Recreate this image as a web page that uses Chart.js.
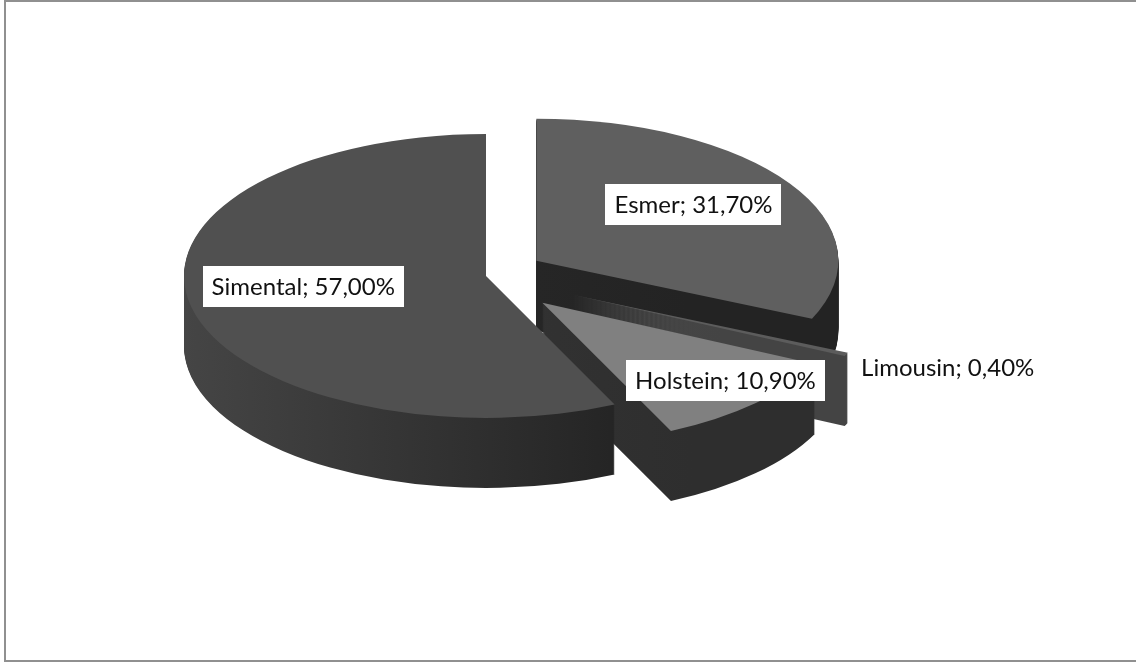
<!DOCTYPE html>
<html>
<head>
<meta charset="utf-8">
<script src="https://cdn.jsdelivr.net/npm/chart.js@4"></script>
<style>
  html, body { margin: 0; padding: 0; background: #fff; }
  #wrap { position: relative; width: 1136px; height: 664px; overflow: hidden; }
  #frame { position: absolute; left: 4px; top: 0; width: 1140px; height: 658px; border: 2px solid #909090; }
  canvas { position: absolute; left: 0; top: 0; }
</style>
</head>
<body>
<div id="wrap">
  <div id="frame"></div>
  <canvas id="chart1" width="1136" height="664"></canvas>
</div>
<script>
// datos
var razas = ['Esmer', 'Limousin', 'Holstein', 'Simental'];
var porcentajes = [31.7, 0.4, 10.9, 57.0];

// estilo de cada porcion
var colorTapa = ['#5f5f5f', '#5c5c5c', '#808080', '#505050'];
var colorLado = [['#2c2c2c', '#232323'], ['#4e4e4e', '#444444'], ['#383838', '#2e2e2e'], ['#454545', '#232323']];
var separacion = [60, 95, 80, 0];          // explosion, px
var radioEtiqueta = [0.62, 1.37, 0.86, 0.62];

var INCLINA = 0.47;   // aplastado vertical
var GROSOR = 70;      // alto del canto
var ELEVA = 9;        // subir etiquetas

function conOpciones(arc, fill, ctx) {
  var orig = arc.options;
  arc.options = Object.assign({}, orig, { backgroundColor: fill, borderWidth: 0 });
  arc.draw(ctx);
  arc.options = orig;
}

function plano(ctx, cx, cy, d) {
  ctx.translate(0, d);
  ctx.translate(cx, cy);
  ctx.scale(1, INCLINA);
  ctx.translate(-cx, -cy);
}

function mover(ctx, arc, i) {
  var mitad = (arc.startAngle + arc.endAngle) / 2;
  ctx.translate(Math.cos(mitad) * separacion[i], Math.sin(mitad) * separacion[i]);
}

var tarta3d = {
  id: 'tarta3d',
  beforeDatasetsDraw: function(chart) {
    var ctx = chart.ctx;
    var arcs = chart.getDatasetMeta(0).data;
    var cx = arcs[0].x, cy = arcs[0].y, R = arcs[0].outerRadius;

    // cantos, capa por capa desde abajo
    for (var d = GROSOR; d > 0; d--) {
      arcs.forEach(function(arc, i) {
        ctx.save();
        plano(ctx, cx, cy, d);
        mover(ctx, arc, i);
        var g = ctx.createLinearGradient(cx - R, 0, cx + R * 0.5, 0);
        g.addColorStop(0, colorLado[i][0]);
        g.addColorStop(1, colorLado[i][1]);
        conOpciones(arc, g, ctx);
        ctx.restore();
      });
    }

    // tapas
    arcs.forEach(function(arc, i) {
      ctx.save();
      plano(ctx, cx, cy, 0);
      mover(ctx, arc, i);
      conOpciones(arc, colorTapa[i], ctx);
      ctx.restore();
    });

    // etiquetas
    ctx.save();
    ctx.font = '24px Lato';
    ctx.textAlign = 'center';
    ctx.textBaseline = 'middle';
    arcs.forEach(function(arc, i) {
      var mitad = (arc.startAngle + arc.endAngle) / 2;
      var r = separacion[i] + arc.outerRadius * radioEtiqueta[i];
      var px = cx + Math.cos(mitad) * r;
      var py = cy + Math.sin(mitad) * r * INCLINA - ELEVA;
      var txt = razas[i] + '; ' + porcentajes[i].toFixed(2).replace('.', ',') + '%';
      if (radioEtiqueta[i] < 1) {
        var w = ctx.measureText(txt).width + 18;
        ctx.fillStyle = '#ffffff';
        ctx.fillRect(Math.round(px - w / 2), Math.round(py - 20), Math.round(w), 41);
      }
      ctx.fillStyle = '#111111';
      ctx.fillText(txt, px, py + 1);
    });
    ctx.restore();
    return false;
  }
};

const chartTarta = document.getElementById('chart1');

new Chart(chartTarta, {
  type: 'pie',
  data: {
    labels: razas,
    datasets: [{
      label: 'Razas',
      data: porcentajes,
      backgroundColor: colorTapa,
      borderWidth: 0,
      radius: 302,
      clip: false
    }]
  },
  options: {
    responsive: false,
    animation: false,
    layout: { padding: { left: 0, right: 164, top: 0, bottom: 112 } },
    plugins: {
      legend: { display: false },
      tooltip: { enabled: false }
    }
  },
  plugins: [tarta3d]
});
</script>
</body>
</html>
